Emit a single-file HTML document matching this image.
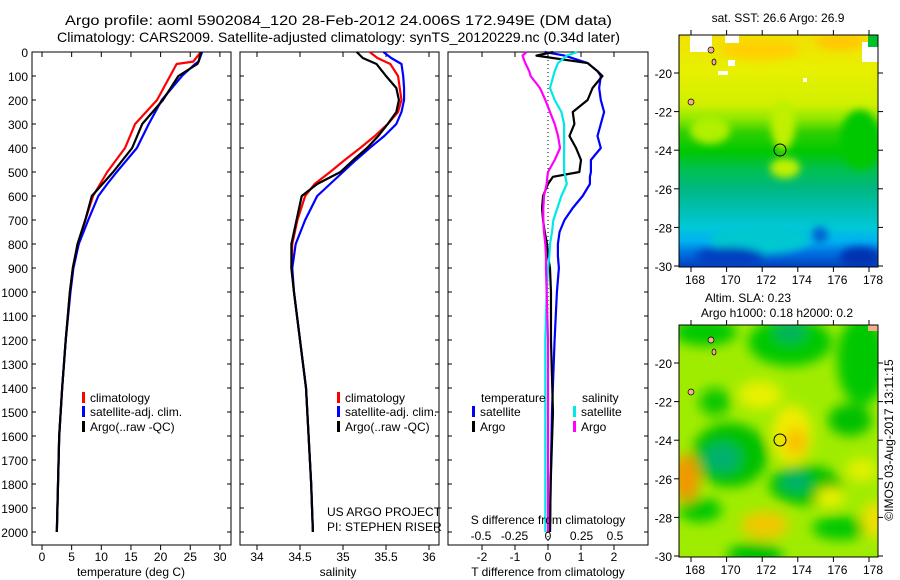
<!DOCTYPE html>
<html><head><meta charset="utf-8"><style>
body{margin:0;background:#fff;}
svg{display:block;font-family:"Liberation Sans",sans-serif;font-size:12px;}
</style></head><body>
<svg id="c" width="900" height="580" viewBox="0 0 900 580">
<defs>
<filter id="blur8" x="-50%" y="-50%" width="200%" height="200%"><feGaussianBlur stdDeviation="6"/></filter>
<filter id="blur4" x="-50%" y="-50%" width="200%" height="200%"><feGaussianBlur stdDeviation="4"/></filter>
<clipPath id="m1c"><rect x="679" y="35" width="199" height="232"/></clipPath>
<clipPath id="m2c"><rect x="679" y="325" width="199" height="232"/></clipPath>
<linearGradient id="sstg" x1="0" y1="0" x2="0" y2="1">
<stop offset="0" stop-color="#f2e000"/><stop offset="0.15" stop-color="#e8f000"/><stop offset="0.3" stop-color="#d0f000"/>
<stop offset="0.36" stop-color="#90e800"/><stop offset="0.42" stop-color="#30d000"/><stop offset="0.5" stop-color="#00c800"/>
<stop offset="0.58" stop-color="#00c050"/><stop offset="0.66" stop-color="#00b880"/><stop offset="0.75" stop-color="#00c0b0"/>
<stop offset="0.83" stop-color="#00c8d8"/><stop offset="0.89" stop-color="#00b0f0"/><stop offset="0.94" stop-color="#0070e0"/><stop offset="1" stop-color="#0040c0"/>
</linearGradient>
</defs>
<g id="titles">
<text x="65" y="25" textLength="547" lengthAdjust="spacingAndGlyphs" font-size="14">Argo profile: aoml 5902084_120 28-Feb-2012 24.006S 172.949E (DM data)</text>
<text x="57" y="42" textLength="563" lengthAdjust="spacingAndGlyphs" font-size="14">Climatology: CARS2009. Satellite-adjusted climatology: synTS_20120229.nc (0.34d later)</text>
</g>
<g id="panels"></g>
<g id="maps">
<g clip-path="url(#m1c)">
<rect x="679" y="35" width="199" height="232" fill="url(#sstg)"/>
<g filter="url(#blur4)">
<ellipse cx="760" cy="50" rx="40" ry="10" fill="#ffd000"/>
<ellipse cx="840" cy="42" rx="25" ry="8" fill="#ffc800"/>
<ellipse cx="710" cy="130" rx="20" ry="14" fill="#b0f000"/>
<ellipse cx="785" cy="168" rx="15" ry="10" fill="#c0f000"/>
<ellipse cx="783" cy="125" rx="12" ry="25" fill="#c0f000"/>
<ellipse cx="860" cy="140" rx="20" ry="30" fill="#00c800"/>
<ellipse cx="760" cy="240" rx="50" ry="14" fill="#00c8d0"/>
<ellipse cx="730" cy="257" rx="35" ry="10" fill="#0040c0"/>
<ellipse cx="860" cy="257" rx="20" ry="10" fill="#0030b0"/>
<ellipse cx="820" cy="235" rx="8" ry="8" fill="#0060d0"/>
</g>
<rect x="690" y="35" width="22" height="17" fill="#fff"/><rect x="725" y="35" width="14" height="8" fill="#fff"/>
<rect x="718" y="71" width="10" height="4" fill="#fff"/><rect x="728" y="60" width="7" height="6" fill="#fff"/>
<rect x="803" y="78" width="4" height="4" fill="#fff"/><rect x="862" y="42" width="16" height="20" fill="#fff"/>
<rect x="868" y="35" width="10" height="12" fill="#00c030"/>
<ellipse cx="711" cy="50" rx="3" ry="3" fill="#f0b090" stroke="#000" stroke-width="0.7"/>
<ellipse cx="714" cy="62" rx="2" ry="3" fill="#f0b090" stroke="#000" stroke-width="0.7"/>
<ellipse cx="691" cy="102" rx="3" ry="3" fill="#f0b090" stroke="#000" stroke-width="0.7"/>
</g>
<rect x="679" y="35" width="199" height="232" fill="none" stroke="#000"/>
<g clip-path="url(#m2c)">
<rect x="679" y="325" width="199" height="232" fill="#a0ec00"/>
<g filter="url(#blur8)">
<ellipse cx="790" cy="342" rx="42" ry="24" fill="#00c800"/>
<ellipse cx="790" cy="332" rx="15" ry="10" fill="#00b060"/>
<ellipse cx="862" cy="360" rx="25" ry="45" fill="#00c800"/>
<ellipse cx="705" cy="332" rx="32" ry="14" fill="#00c800"/>
<ellipse cx="715" cy="402" rx="16" ry="14" fill="#10c800"/>
<ellipse cx="730" cy="455" rx="38" ry="32" fill="#00c000"/>
<ellipse cx="722" cy="458" rx="18" ry="14" fill="#00b070"/>
<ellipse cx="805" cy="485" rx="36" ry="20" fill="#00c000"/>
<ellipse cx="796" cy="482" rx="14" ry="9" fill="#00b070"/>
<ellipse cx="850" cy="420" rx="22" ry="16" fill="#00c000"/>
<ellipse cx="700" cy="510" rx="22" ry="12" fill="#00c800"/>
<ellipse cx="755" cy="555" rx="28" ry="12" fill="#00c000"/>
<ellipse cx="840" cy="528" rx="28" ry="12" fill="#00c800"/>
<ellipse cx="792" cy="435" rx="20" ry="30" fill="#f0ec00"/>
<ellipse cx="796" cy="442" rx="11" ry="14" fill="#f8c000"/>
<ellipse cx="686" cy="478" rx="14" ry="24" fill="#f09800"/>
<ellipse cx="765" cy="525" rx="24" ry="14" fill="#f0c800"/>
<ellipse cx="760" cy="395" rx="22" ry="14" fill="#e8f000"/>
<ellipse cx="830" cy="497" rx="14" ry="9" fill="#f0f000"/>
<ellipse cx="874" cy="520" rx="12" ry="18" fill="#f0e000"/>
<ellipse cx="862" cy="470" rx="16" ry="12" fill="#e0f000"/>
</g>
<ellipse cx="711" cy="340" rx="3" ry="3" fill="#f0b090" stroke="#000" stroke-width="0.7"/>
<ellipse cx="714" cy="352" rx="2" ry="3" fill="#f0b090" stroke="#000" stroke-width="0.7"/>
<ellipse cx="691" cy="392" rx="3" ry="3" fill="#f0b090" stroke="#000" stroke-width="0.7"/>
<rect x="868" y="325" width="10" height="6" fill="#f0b090"/>
</g>
<rect x="679" y="325" width="199" height="232" fill="none" stroke="#000"/>
<circle cx="780" cy="150" r="6" fill="none" stroke="#000"/>
<circle cx="780" cy="440" r="6" fill="none" stroke="#000"/>
<text x="778" y="22" text-anchor="middle">sat. SST: 26.6 Argo: 26.9</text>
<text x="748" y="302" text-anchor="middle">Altim. SLA: 0.23</text>
<text x="777" y="317" text-anchor="middle">Argo h1000: 0.18 h2000: 0.2</text>
<text transform="translate(893,440) rotate(-90)" text-anchor="middle">©IMOS 03-Aug-2017 13:11:15</text>
</g>
</svg>
<script>
// ---- data ----
const depthT = [0,40,50,100,200,300,400,500,550,600,700,800,900,1000,1200,1400,1600,1800,2000];
const tClim  = [26.8,25.5,22.7,21.6,19.4,15.7,14.0,11.0,9.8,8.6,7.3,6.0,5.2,4.7,4.0,3.4,2.9,2.7,2.5];
const tSat   = [27.0,26.4,25.8,23.6,20.2,18.0,16.0,12.6,11.0,9.5,7.8,6.2,5.3,4.8,4.0,3.4,2.9,2.7,2.5];
const tArgo  = [26.8,26.4,26.2,23.0,20.4,16.9,15.2,12.0,10.2,8.4,7.3,6.0,5.2,4.7,4.0,3.4,2.9,2.7,2.5];
const depthS = [0,25,50,100,150,200,250,300,350,400,450,500,550,600,700,800,900,1000,1200,1400,1600,1800,2000];
const sClim  = [35.31,35.40,35.55,35.64,35.66,35.68,35.64,35.52,35.37,35.20,35.02,34.85,34.67,34.56,34.47,34.41,34.40,34.43,34.50,34.57,34.60,34.63,34.65];
const sSat   = [35.47,35.56,35.68,35.70,35.71,35.71,35.68,35.62,35.48,35.31,35.15,35.00,34.85,34.70,34.56,34.45,34.41,34.43,34.50,34.57,34.60,34.63,34.65];
const sArgo  = [35.16,35.23,35.39,35.50,35.62,35.65,35.62,35.52,35.41,35.28,35.12,34.97,34.70,34.52,34.46,34.40,34.40,34.43,34.50,34.57,34.60,34.63,34.65];
const depthD = [0,15,46,80,100,150,200,250,300,350,400,450,500,520,550,600,650,700,750,800,850,900,1000,1200,1500,1800,2000];
const dTSat  = [-0.1,0.5,1.2,1.5,1.6,1.55,1.6,1.7,1.6,1.5,1.6,1.3,1.3,1.27,1.27,1.05,0.75,0.5,0.35,0.3,0.3,0.33,0.27,0.2,0.12,0.08,0.06];
const dTArgo = [0.15,-0.35,1.2,1.5,1.65,1.35,1.2,0.75,0.8,0.65,0.85,1.0,0.95,0.15,0.0,-0.15,-0.18,-0.15,-0.1,-0.03,0.0,0.06,0.09,0.09,0.15,0.08,0.06];
const dSSat  = [0.22,0.14,0.075,0.05,0.04,0.015,0.05,0.1,0.12,0.12,0.12,0.12,0.12,0.13,0.14,0.1,0.07,0.04,0.03,0.015,0.01,0.0,-0.01,-0.02,-0.02,-0.02,-0.02];
const dSArgo = [-0.16,-0.19,-0.17,-0.14,-0.13,-0.06,-0.02,0.015,0.05,0.075,0.09,0.05,0.0,-0.005,-0.01,-0.03,-0.035,-0.035,-0.03,-0.02,-0.015,-0.015,-0.01,0.0,0.0,0.0,0.0];
const depthTicks = [0,100,200,300,400,500,600,700,800,900,1000,1100,1200,1300,1400,1500,1600,1700,1800,1900,2000];
const tTicks = [0,5,10,15,20,25,30];
const sTicks = [34,34.5,35,35.5,36];
const dTTicks = [-2,-1,0,1,2];
const dSTicks = [-0.5,-0.25,0,0.25,0.5];
const dSTickLabels = ['-0.5','-0.25','0','0.25','0.5'];
const latTicks = [-20,-22,-24,-26,-28,-30];
const lonTicks = [168,170,172,174,176,178];

// ---- axes ----
const NS='http://www.w3.org/2000/svg';
const yD = d => 52 + d*0.24;
const xT = t => 42 + t*5.93;
const xS = s => 257 + (s-34)*86;
const xdT = v => 548 + 33*v;
const xdS = v => 548 + 134*v;
const xLon = l => 691 + (l-168)*17.8;
const yLat1 = l => 73 + (-20-l)*19.3;
const yLat2 = l => 363 + (-20-l)*19.3;
const P = {top:52,bot:545};
const root = document.getElementById('panels');
const maps = document.getElementById('maps');
function mk(tag, attrs, parent){const e=document.createElementNS(NS,tag);for(const k in attrs)e.setAttribute(k,attrs[k]);(parent||root).appendChild(e);return e;}
function txt(x,y,s,anchor,parent){const e=mk('text',{x:x,y:y,'text-anchor':anchor||'middle'},parent);e.textContent=s;return e;}

function frame(x0,x1,name){
  const r=mk('rect',{x:x0,y:P.top,width:x1-x0,height:P.bot-P.top,fill:'none',stroke:'#000'});
  
  
  depthTicks.forEach(d=>{mk('line',{x1:x0,x2:x0+4,y1:yD(d),y2:yD(d),stroke:'#000'});mk('line',{x1:x1,x2:x1-4,y1:yD(d),y2:yD(d),stroke:'#000'});});
}
function xticks(vals,fx,labels,x0,x1,name){
  const g=mk('g',{});
  
  
  vals.forEach((v,i)=>{const x=fx(v);
    mk('line',{x1:x,x2:x,y1:P.top,y2:P.top+5,stroke:'#000'},g);
    mk('line',{x1:x,x2:x,y1:P.bot,y2:P.bot+5,stroke:'#000'},g);
    txt(x,P.bot+16,labels?labels[i]:String(v),'middle',g);});
}
function line(ds,vs,fx,color,name,w){
  const p=mk('polyline',{points:ds.map((d,i)=>fx(vs[i])+','+yD(d)).join(' '),fill:'none',stroke:color,'stroke-width':w||2.2,'stroke-linejoin':'round'});
  
  
}
function legendItem(x,y,color,label,name){
  const g=mk('g',{});
  
  
  mk('rect',{x:x,y:y-10,width:3,height:11,fill:color},g);
  txt(x+8,y,label,'start',g);
}

// depth labels
const yl=mk('g',{});


depthTicks.forEach(d=>txt(28,yD(d)+5,String(d),'end',yl));

// panel 1 temperature
frame(32,231,'temperature-panel');
xticks(tTicks,xT,null,32,231,'temperature-x-axis');
line(depthT,tClim,xT,'#ff0000','temp-climatology-line');
line(depthT,tSat,xT,'#0000ff','temp-satellite-line');
line(depthT,tArgo,xT,'#000000','temp-argo-line');
const t1=txt(131,576,'temperature (deg C)');


legendItem(82,402,'#ff0000','climatology','legend-climatology-1');
legendItem(82,416,'#0000ff','satellite-adj. clim.','legend-satellite-1');
legendItem(82,431,'#000000','Argo(..raw -QC)','legend-argo-1');

// panel 2 salinity
frame(240,439,'salinity-panel');
xticks(sTicks,xS,null,240,439,'salinity-x-axis');
line(depthS,sClim,xS,'#ff0000','sal-climatology-line');
line(depthS,sSat,xS,'#0000ff','sal-satellite-line');
line(depthS,sArgo,xS,'#000000','sal-argo-line');
const t2=txt(338,576,'salinity');


legendItem(337,402,'#ff0000','climatology','legend-climatology-2');
legendItem(337,416,'#0000ff','satellite-adj. clim.','legend-satellite-2');
legendItem(337,431,'#000000','Argo(..raw -QC)','legend-argo-2');
const pr=mk('g',{});


txt(327,516,'US ARGO PROJECT','start',pr);
txt(327,531,'PI: STEPHEN RISER','start',pr);

// panel 3 differences
frame(448,648,'difference-panel');
xticks(dTTicks,xdT,null,448,648,'t-diff-x-axis');
mk('line',{x1:548,x2:548,y1:P.top,y2:P.bot,stroke:'#000','stroke-dasharray':'1,3'});
line(depthD,dTSat,xdT,'#0000ff','tdiff-satellite-line');
line(depthD,dTArgo,xdT,'#000000','tdiff-argo-line');
line(depthD,dSSat,xdS,'#00e8e8','sdiff-satellite-line');
line(depthD,dSArgo,xdS,'#ff00ff','sdiff-argo-line');
const sg=mk('g',{});


dSTicks.forEach((v,i)=>txt(xdS(v),540,dSTickLabels[i],'middle',sg));
txt(548,524,'S difference from climatology','middle',sg);
const t3=txt(548,576,'T difference from climatology');


txt(481,402,'temperature','start');
txt(582,402,'salinity','start');
legendItem(472,416,'#0000ff','satellite','legend-tdiff-satellite');
legendItem(472,431,'#000000','Argo','legend-tdiff-argo');
legendItem(573,416,'#00e8e8','satellite','legend-sdiff-satellite');
legendItem(573,431,'#ff00ff','Argo','legend-sdiff-argo');

// map axes
function mapAxes(fy,top,bot,name){
  const g=mk('g',{},maps);
  
  
  latTicks.forEach(l=>{const y=fy(l);
    mk('line',{x1:674,x2:679,y1:y,y2:y,stroke:'#000'},g);
    mk('line',{x1:878,x2:883,y1:y,y2:y,stroke:'#000'},g);
    txt(672,y+5,String(l),'end',g);});
  lonTicks.forEach(l=>{const x=xLon(l);
    mk('line',{x1:x,x2:x,y1:top-5,y2:top,stroke:'#000'},g);
    mk('line',{x1:x,x2:x,y1:bot,y2:bot+5,stroke:'#000'},g);
    txt(x+4,bot+17,String(l),'middle',g);});
}
mapAxes(yLat1,35,267,'sst-map-axes');
mapAxes(yLat2,325,557,'sla-map-axes');
</script>
</body></html>
